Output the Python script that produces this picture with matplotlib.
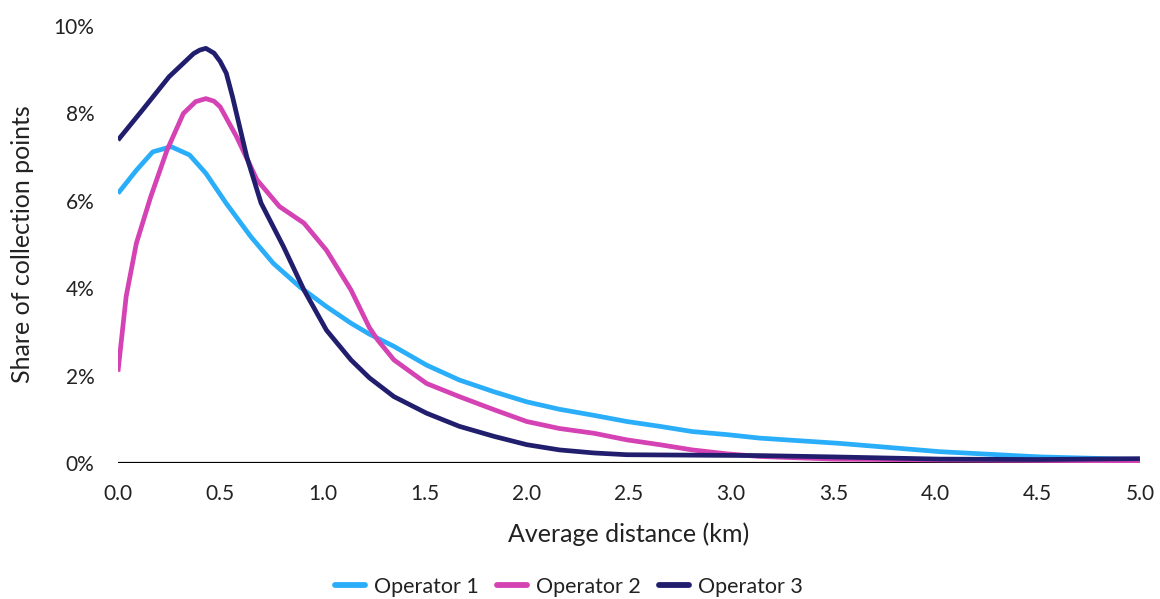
import matplotlib.pyplot as plt
from matplotlib.ticker import FuncFormatter

plt.rcParams['font.family'] = ['Lato', 'DejaVu Sans']

# distancia media (km) e share (%)
op1_x = [0.0, 0.09, 0.17, 0.26, 0.35, 0.43, 0.53, 0.65, 0.76, 0.89, 1.02, 1.14,
         1.23, 1.35, 1.51, 1.67, 1.84, 2.0, 2.16, 2.33, 2.49, 2.65, 2.81, 2.98,
         3.14, 3.53, 4.02, 4.51, 5.0]
op1_y = [6.17, 6.7, 7.12, 7.24, 7.05, 6.63, 5.94, 5.18, 4.57, 4.03, 3.58, 3.2,
         2.95, 2.67, 2.24, 1.9, 1.63, 1.4, 1.23, 1.09, 0.95, 0.84, 0.72, 0.65,
         0.57, 0.45, 0.26, 0.14, 0.08]

op2_x = [0.0, 0.04, 0.09, 0.16, 0.24, 0.32, 0.38, 0.43, 0.47, 0.5, 0.58, 0.68,
         0.79, 0.91, 1.02, 1.14, 1.23, 1.27, 1.35, 1.51, 1.67, 1.84, 2.0, 2.16,
         2.33, 2.49, 2.65, 2.81, 2.98, 3.14, 3.5, 4.02, 4.5, 5.0]
op2_y = [2.09, 3.81, 5.03, 6.09, 7.16, 8.0, 8.27, 8.34, 8.28, 8.15, 7.47, 6.48,
         5.87, 5.49, 4.87, 3.96, 3.1, 2.82, 2.36, 1.82, 1.52, 1.22, 0.95, 0.79,
         0.68, 0.53, 0.42, 0.3, 0.21, 0.15, 0.09, 0.07, 0.06, 0.05]

op3_x = [0.0, 0.12, 0.25, 0.37, 0.40, 0.43, 0.47, 0.5, 0.53, 0.56, 0.63, 0.7,
         0.81, 0.91, 1.02, 1.14, 1.23, 1.35, 1.51, 1.67, 1.84, 2.0, 2.16, 2.33,
         2.49, 2.81, 3.14, 3.5, 4.02, 4.5, 5.0]
op3_y = [7.39, 8.08, 8.84, 9.37, 9.45, 9.49, 9.38, 9.19, 8.92, 8.39, 7.01, 5.95,
         4.95, 3.96, 3.04, 2.36, 1.95, 1.52, 1.14, 0.84, 0.61, 0.42, 0.3, 0.23,
         0.19, 0.18, 0.17, 0.14, 0.09, 0.08, 0.1]

series = [("Operator 1", op1_x, op1_y, "#2AAEF9"),
          ("Operator 2", op2_x, op2_y, "#D442B4"),
          ("Operator 3", op3_x, op3_y, "#221E6E")]

fig = plt.figure(figsize=(11.6, 5.99), dpi=100)
ax = fig.add_axes([0.1017, 0.227, 0.881, 0.7295])

ax.axhline(0, color="black", lw=1.6, zorder=1)
for nome, xs, ys, cor in series:
    ax.plot(xs, ys, color=cor, lw=3.4, label=nome,
            solid_joinstyle="round", solid_capstyle="butt", zorder=2)

ax.set_xlim(0, 5)
ax.set_ylim(0, 10)
ax.set_xticks([i * 0.5 for i in range(11)])
ax.set_yticks([0, 2, 4, 6, 8, 10])
ax.xaxis.set_major_formatter(FuncFormatter(lambda v, p: f"{v:.1f}"))
ax.yaxis.set_major_formatter(FuncFormatter(lambda v, p: f"{v:.0f}%"))
ax.tick_params(length=0, labelsize=15, colors="#222222")
ax.tick_params(axis="x", pad=15)
ax.tick_params(axis="y", pad=17)
for s in ax.spines.values():
    s.set_visible(False)

ax.set_xlabel("Average distance (km)", fontsize=18, color="#222222", labelpad=13)
ax.set_ylabel("Share of collection points", fontsize=18, color="#222222", labelpad=14)

leg = fig.legend(loc="center", bbox_to_anchor=(0.4905, 0.02), ncol=3,
                 frameon=False, fontsize=15.5, handlelength=1.4,
                 handletextpad=0.42, columnspacing=0.84, borderpad=0.1)
for t in leg.get_texts():
    t.set_color("#222222")
for h in leg.get_lines():
    h.set_linewidth(4.2)
    h.set_solid_capstyle("round")

fig.savefig("out.png", dpi=100)
